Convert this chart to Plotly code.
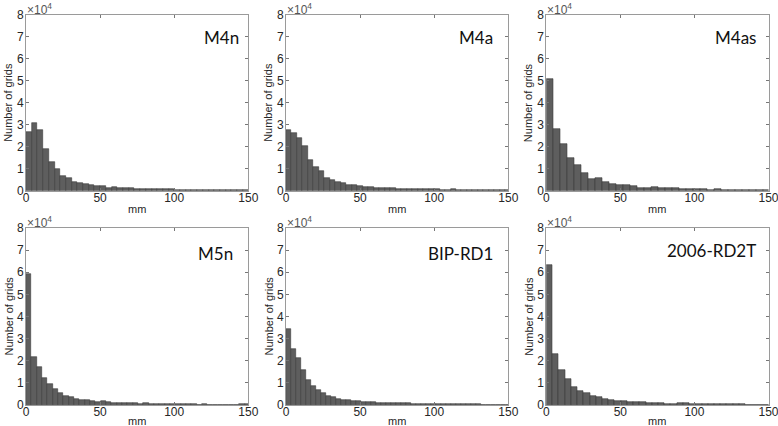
import plotly.graph_objects as go

W, H = 778, 426

# Histogram heights in units of 10^4 grids, one value per bin starting at 0 mm
panel_names = ["M4n", "M4a", "M4as", "M5n", "BIP-RD1", "2006-RD2T"]
bin_widths = [3.85, 3.7, 4.73, 3.6, 3.38, 4.2]

m4n = [2.69, 3.10, 2.76, 1.92, 1.31, 1.01, 0.69, 0.58, 0.40, 0.34, 0.31, 0.25, 0.21, 0.22,
       0.14, 0.15, 0.11, 0.12, 0.11, 0.08, 0.09, 0.08, 0.07, 0.08, 0.07, 0.06, 0.05, 0.05,
       0.05, 0.04, 0.04, 0.04, 0.03, 0.03, 0.04, 0.03, 0.02, 0.02, 0.02]
m4a = [2.75, 2.62, 2.38, 2.05, 1.38, 1.08, 0.90, 0.56, 0.47, 0.38, 0.33, 0.27, 0.24, 0.23,
       0.18, 0.15, 0.14, 0.12, 0.12, 0.14, 0.08, 0.07, 0.09, 0.08, 0.07, 0.06, 0.10, 0.06,
       0.05, 0.05, 0.07, 0.04, 0.04, 0.03, 0.04, 0.03, 0.03, 0.03, 0.02, 0.02, 0.02]
m4as = [5.07, 2.79, 2.14, 1.47, 1.18, 0.80, 0.52, 0.56, 0.41, 0.32, 0.24, 0.26, 0.21, 0.14,
        0.12, 0.17, 0.12, 0.11, 0.12, 0.10, 0.09, 0.08, 0.10, 0.05, 0.08, 0.05, 0.04, 0.05,
        0.04, 0.03, 0.04, 0.04]
m5n = [5.90, 2.16, 1.70, 1.20, 0.95, 0.72, 0.54, 0.40, 0.36, 0.25, 0.22, 0.21, 0.19, 0.13,
       0.16, 0.12, 0.10, 0.09, 0.08, 0.08, 0.07, 0.06, 0.08, 0.05, 0.04, 0.04, 0.05, 0.04,
       0.05, 0.04, 0.04, 0.03, 0.02, 0.03, 0.02, 0.02, 0.02, 0.02, 0.02, 0.02, 0.03, 0.03]
bip_rd1 = [3.45, 2.53, 2.11, 1.56, 1.14, 0.86, 0.66, 0.55, 0.42, 0.34, 0.29, 0.24, 0.21, 0.19,
           0.17, 0.15, 0.13, 0.12, 0.11, 0.10, 0.09, 0.09, 0.08, 0.07, 0.07, 0.06, 0.06, 0.05,
           0.05, 0.05, 0.04, 0.04, 0.04, 0.04, 0.03, 0.03, 0.03, 0.03, 0.03, 0.02, 0.02, 0.02,
           0.02, 0.02, 0.02]
rd2t_2006 = [6.31, 2.30, 1.59, 1.19, 0.81, 0.64, 0.54, 0.40, 0.34, 0.28, 0.23, 0.19, 0.16,
             0.13, 0.12, 0.12, 0.07, 0.09, 0.08, 0.05, 0.05, 0.07, 0.07, 0.04, 0.04, 0.03,
             0.05, 0.03, 0.03, 0.04, 0.04, 0.03, 0.01, 0.01, 0.0, 0.0]

series = [m4n, m4a, m4as, m5n, bip_rd1, rd2t_2006]

x_ticks = [0, 50, 100, 150]
y_ticks = [0, 1, 2, 3, 4, 5, 6, 7, 8]

# panel geometry in pixels (left, right, top, bottom)
cols = [(26, 248.3), (286, 508.3), (546.3, 768.5)]
rows = [(15, 190.7), (228, 405)]
label_right = [241, 495, 758, 235, 495, 758]
label_y = [38, 38, 38, 254, 254, 251]
mm_offset = [18.5, 15.5]

fig = go.Figure()
tick_font = dict(family="Liberation Sans, Arial, sans-serif", size=12, color="#262626")
axis_color = "#9a9a9a"

annotations = []
for i, (name, vals, bw) in enumerate(zip(panel_names, series, bin_widths)):
    r, c = divmod(i, 3)
    xl, xr = cols[c]
    yt, yb = rows[r]
    xa = "x" if i == 0 else f"x{i+1}"
    ya = "y" if i == 0 else f"y{i+1}"
    centers = [bw * (k + 0.5) for k in range(len(vals))]
    fig.add_trace(go.Bar(
        x=centers, y=vals, width=bw, xaxis=xa, yaxis=ya,
        marker=dict(color="#5e5e5e", line=dict(color="#3a3a3a", width=0.6)),
        showlegend=False, hoverinfo="skip",
    ))
    common = dict(showline=True, linecolor=axis_color, linewidth=1, mirror="ticks",
                  ticks="inside", ticklen=3, tickcolor="#777777", showgrid=False,
                  zeroline=False, tickfont=tick_font, automargin=False, fixedrange=True,
                  ticklabeloverflow="allow")
    fig.layout[("xaxis" if i == 0 else f"xaxis{i+1}")] = dict(
        common, domain=[xl / W, xr / W], range=[0, 150], tickvals=x_ticks,
        anchor=ya, ticklabelstandoff=-4)
    fig.layout[("yaxis" if i == 0 else f"yaxis{i+1}")] = dict(
        common, domain=[1 - yb / H, 1 - yt / H], range=[0, 8], tickvals=y_ticks,
        anchor=xa, ticklabelstandoff=-1)

    # y axis title
    annotations.append(dict(text="Number of grids", x=(xl - 18) / W, y=1 - ((yt + yb) / 2) / H,
                            xref="paper", yref="paper", textangle=-90, showarrow=False,
                            xanchor="center", yanchor="middle",
                            font=dict(family="Liberation Sans, Arial", size=11, color="#262626")))
    # x axis title
    annotations.append(dict(text="mm", x=((xl + xr) / 2) / W, y=1 - (yb + mm_offset[r]) / H,
                            xref="paper", yref="paper", showarrow=False,
                            xanchor="center", yanchor="middle",
                            font=dict(family="Liberation Sans, Arial", size=11, color="#262626")))
    # exponent label
    annotations.append(dict(text="×10<sup>4</sup>", x=(xl - 1) / W, y=1 - (yt - 6) / H,
                            xref="paper", yref="paper", showarrow=False,
                            xanchor="left", yanchor="middle",
                            font=dict(family="Liberation Sans, Arial", size=12, color="#555555")))
    # panel label
    annotations.append(dict(text=name, x=label_right[i] / W, y=1 - label_y[i] / H,
                            xref="paper", yref="paper", showarrow=False,
                            xanchor="right", yanchor="middle",
                            font=dict(family="Lato, sans-serif", size=17, color="#111111")))

fig.update_layout(
    width=W, height=H, margin=dict(l=0, r=0, t=0, b=0),
    paper_bgcolor="white", plot_bgcolor="white",
    bargap=0, annotations=annotations,
)

fig.write_html("out.html", config={"displayModeBar": False},
               post_script="document.body.style.margin='0';")
